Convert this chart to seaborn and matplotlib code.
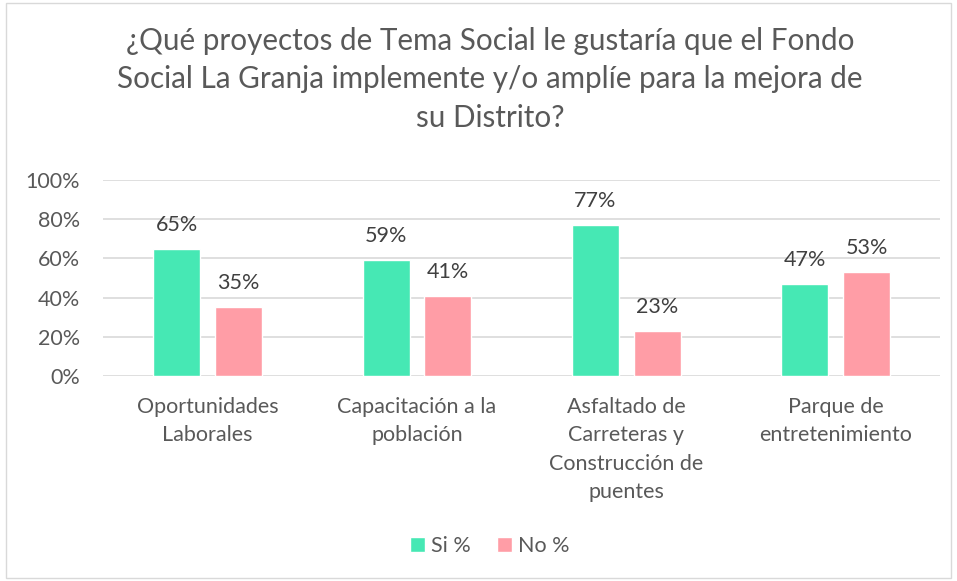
import matplotlib
matplotlib.use("Agg")
import matplotlib.pyplot as plt
import seaborn as sns
import pandas as pd

categories = ["Oportunidades\nLaborales", "Capacitación a la\npoblación",
              "Asfaltado de\nCarreteras y\nConstrucción de\npuentes", "Parque de\nentretenimiento"]
si_values = [0.65, 0.59, 0.77, 0.47]
no_values = [0.35, 0.41, 0.23, 0.53]
series = ["Si %", "No %"]
colors = ["#46E8B4", "#FF9DA6"]

df = pd.DataFrame({
    "cat": categories * 2,
    "serie": [series[0]] * 4 + [series[1]] * 4,
    "valor": si_values + no_values,
})

sns.set_style("white")
plt.rcParams["font.family"] = ["Lato", "DejaVu Sans"]
text_color = "#595959"
fs = 15.5

fig = plt.figure(figsize=(9.57, 5.81), dpi=100)
ax = fig.add_axes([0.1076, 0.353, 0.875, 0.337])

sns.barplot(data=df, x="cat", y="valor", hue="serie", palette=colors,
            width=0.59, gap=0.24, saturation=1, ax=ax, legend=True)

ax.set_ylim(0, 1)
ax.set_yticks([0, 0.2, 0.4, 0.6, 0.8, 1.0])
ax.set_yticklabels(["0%", "20%", "40%", "60%", "80%", "100%"])
ax.yaxis.grid(True, color="#D9D9D9", linewidth=1.2)
ax.set_axisbelow(True)
for s in ax.spines.values():
    s.set_visible(False)
ax.tick_params(axis="both", length=0, labelsize=fs, colors=text_color)
ax.tick_params(axis="y", pad=16.5)
ax.tick_params(axis="x", pad=15)
for lbl in ax.get_xticklabels():
    lbl.set_linespacing(1.53)
ax.set_xlabel("")
ax.set_ylabel("")

for cont in ax.containers:
    ax.bar_label(cont, labels=[f"{v*100:.0f}%" for v in cont.datavalues],
                 padding=10, fontsize=fs, color="#404040")

fig.text(0.512, 0.9535, "¿Qué proyectos de Tema Social le gustaría que el Fondo\n"
         "Social La Granja implemente y/o amplíe para la mejora de\nsu Distrito?",
         ha="center", va="top", fontsize=21.3, color=text_color, linespacing=1.45)

ax.legend(loc="center", bbox_to_anchor=(0.462, -0.87), ncol=2, frameon=False,
          fontsize=fs, labelcolor=text_color, handlelength=0.7, handleheight=0.7,
          columnspacing=1.2, handletextpad=0.3)

fig.patches.append(plt.Rectangle((0.006, 0.005), 0.988, 0.99, transform=fig.transFigure,
                                 fill=False, edgecolor="#D9D9D9", linewidth=1))

fig.savefig("out.png", dpi=100)
